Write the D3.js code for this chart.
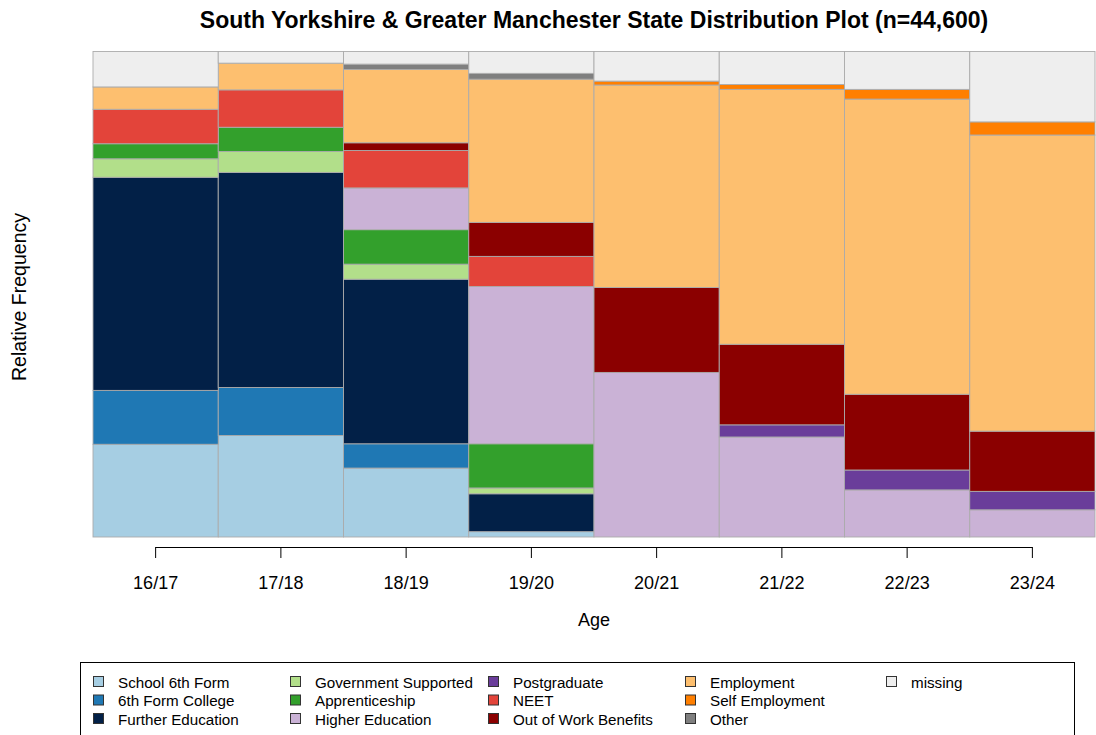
<!DOCTYPE html>
<html>
<head>
<meta charset="utf-8">
<script src="https://cdn.jsdelivr.net/npm/d3@7"></script>
<style>
  html, body { margin: 0; padding: 0; background: #fff; }
  svg { display: block; font-family: "Liberation Sans", Arial, sans-serif; }
</style>
</head>
<body>
<svg id="chart" width="1096" height="735"></svg>
<script>
// Age groups along the x axis
const ages = ["16/17", "17/18", "18/19", "19/20", "20/21", "21/22", "22/23", "23/24"];

// States, in stacking order (bottom to top)
const states = [
  "School 6th Form", "6th Form College", "Further Education",
  "Government Supported", "Apprenticeship", "Higher Education",
  "Postgraduate", "NEET", "Out of Work Benefits",
  "Employment", "Self Employment", "Other", "missing"
];
const stateColors = [
  "#A6CEE3", "#1F78B4", "#022047",
  "#B2DF8A", "#33A02C", "#CAB2D6",
  "#6A3D9A", "#E3443A", "#8B0000",
  "#FDBF6F", "#FF7F00", "#7F7F7F", "#EEEEEE"
];

// Share (%) of each state within each age group
const schoolSixthForm     = [19.1, 20.9, 14.2,  1.1,  0.0,  0.0,  0.0,  0.0];
const sixthFormCollege    = [11.1,  9.9,  5.0,  0.0,  0.0,  0.0,  0.0,  0.0];
const furtherEducation    = [43.9, 44.3, 33.9,  7.8,  0.0,  0.0,  0.0,  0.0];
const governmentSupported = [ 3.8,  4.3,  3.1,  1.2,  0.0,  0.0,  0.0,  0.0];
const apprenticeship      = [ 3.1,  5.0,  7.1,  9.1,  0.0,  0.0,  0.0,  0.0];
const higherEducation     = [ 0.0,  0.0,  8.6, 32.4, 33.9, 20.6,  9.7,  5.6];
const postgraduate        = [ 0.0,  0.0,  0.0,  0.0,  0.0,  2.5,  4.1,  3.8];
const neet                = [ 7.1,  7.7,  7.7,  6.2,  0.0,  0.0,  0.0,  0.0];
const outOfWorkBenefits   = [ 0.0,  0.0,  1.6,  7.0, 17.5, 16.6, 15.6, 12.4];
const employment          = [ 4.6,  5.5, 15.1, 29.5, 41.7, 52.5, 60.8, 61.0];
const selfEmployment      = [ 0.0,  0.0,  0.0,  0.0,  0.8,  1.0,  2.0,  2.7];
const other               = [ 0.0,  0.0,  1.1,  1.2,  0.0,  0.0,  0.0,  0.0];
const missing             = [ 7.3,  2.4,  2.6,  4.5,  6.1,  6.8,  7.8, 14.5];

const seriesValues = [
  schoolSixthForm, sixthFormCollege, furtherEducation, governmentSupported,
  apprenticeship, higherEducation, postgraduate, neet, outOfWorkBenefits,
  employment, selfEmployment, other, missing
];

// One row per age group for d3.stack
const rows = ages.map((age, i) => {
  const r = { age };
  states.forEach((s, k) => { r[s] = seriesValues[k][i]; });
  return r;
});

const svg = d3.select("#chart");
const plot = { left: 93, right: 1095, top: 51.5, bottom: 537 };

const x = d3.scaleBand().domain(ages).range([plot.left, plot.right]).padding(0);
const y = d3.scaleLinear().domain([0, 1]).range([plot.bottom, plot.top]);
const color = d3.scaleOrdinal().domain(states).range(stateColors);

const stacked = d3.stack()
  .keys(states)
  .order(d3.stackOrderNone)
  .offset(d3.stackOffsetExpand)(rows);

// Stacked relative-frequency cells
const layers = svg.append("g").attr("class", "cells")
  .selectAll("g")
  .data(stacked)
  .join("g")
  .attr("fill", d => color(d.key));

layers.selectAll("rect")
  .data(d => d.filter(p => p[1] - p[0] > 0))
  .join("rect")
  .attr("x", p => x(p.data.age))
  .attr("width", x.bandwidth())
  .attr("y", p => y(p[1]))
  .attr("height", p => y(p[0]) - y(p[1]))
  .attr("stroke", "#ababab")
  .attr("stroke-width", 0.9);

// Bottom axis: line spans first to last tick, ticks point down
const axisY = 547;
const axisG = svg.append("g")
  .attr("transform", `translate(0,${axisY})`)
  .call(d3.axisBottom(x).tickSizeInner(11).tickSizeOuter(0).tickPadding(18));
axisG.select(".domain").remove();
axisG.append("line")
  .attr("x1", x(ages[0]) + x.bandwidth() / 2)
  .attr("x2", x(ages[ages.length - 1]) + x.bandwidth() / 2)
  .attr("y1", 0.5).attr("y2", 0.5)
  .attr("stroke", "#000");
axisG.selectAll(".tick line").attr("stroke", "#000");
axisG.selectAll(".tick text")
  .attr("fill", "#000")
  .style("font-size", "18px")
  .style("font-family", "'Liberation Sans', Arial, sans-serif");

// Title and axis titles
svg.append("text")
  .attr("x", 594).attr("y", 28)
  .attr("text-anchor", "middle")
  .style("font-size", "23px")
  .style("font-weight", "bold")
  .text("South Yorkshire & Greater Manchester State Distribution Plot (n=44,600)");

svg.append("text")
  .attr("x", 594).attr("y", 626)
  .attr("text-anchor", "middle")
  .style("font-size", "18px")
  .text("Age");

svg.append("text")
  .attr("transform", "translate(26,297) rotate(-90)")
  .attr("text-anchor", "middle")
  .style("font-size", "19.5px")
  .text("Relative Frequency");

// Legend: 3 rows, filled column by column
const legend = svg.append("g").attr("class", "legend");
legend.append("rect")
  .attr("x", 80.5).attr("y", 662.5)
  .attr("width", 994).attr("height", 90)
  .attr("fill", "none").attr("stroke", "#000").attr("stroke-width", 1);

const colX = [93, 290, 488, 685, 886];
const rowY = [682, 700.5, 719];
const items = legend.selectAll("g.item")
  .data(states)
  .join("g")
  .attr("class", "item")
  .attr("transform", (d, i) => `translate(${colX[Math.floor(i / 3)]},${rowY[i % 3]})`);

items.append("rect")
  .attr("x", 0.5).attr("y", -5.5)
  .attr("width", 10).attr("height", 10)
  .attr("fill", d => color(d))
  .attr("stroke", "#333").attr("stroke-width", 1);

items.append("text")
  .attr("x", 25).attr("y", 5.5)
  .style("font-size", "15.2px")
  .text(d => d);
</script>
</body>
</html>
